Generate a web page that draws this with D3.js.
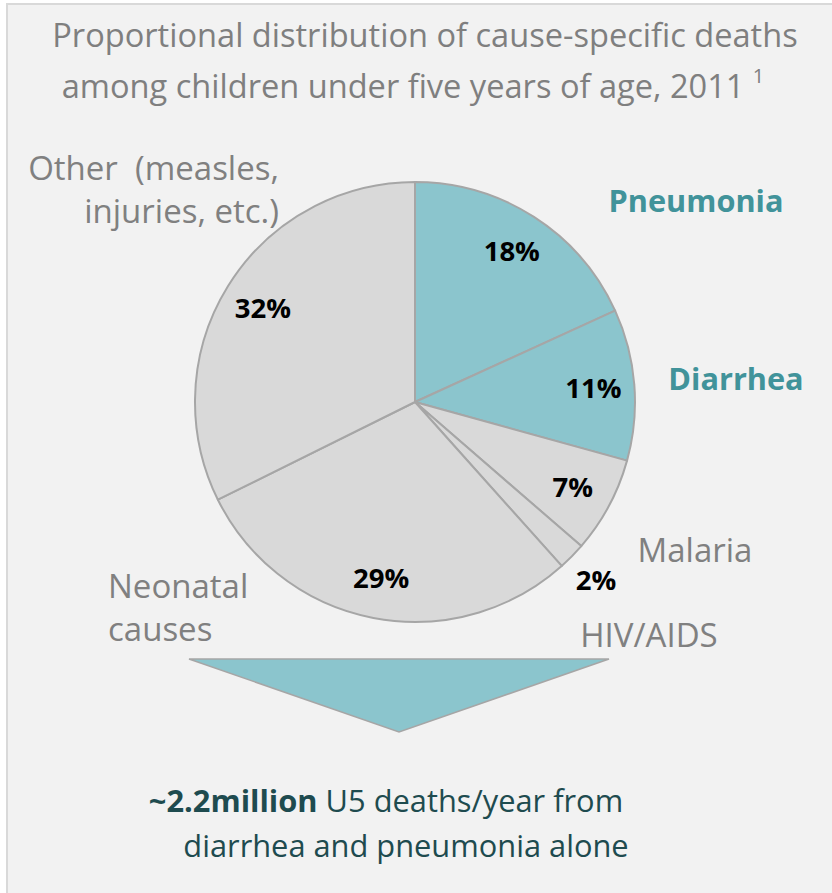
<!DOCTYPE html>
<html>
<head>
<meta charset="utf-8">
<script src="https://cdn.jsdelivr.net/npm/d3@7"></script>
<style>
  body { margin: 0; background: #fff; }
  svg { display: block; font-family: "Open Sans", sans-serif; }
</style>
</head>
<body>
<script>
var width = 832,
    height = 893

// data
var causes = ['Pneumonia', 'Diarrhea', 'Malaria', 'HIV/AIDS', 'Neonatal causes', 'Other (measles, injuries, etc.)']
var shares = [18, 11, 7, 2, 29, 32]
var highlighted = ['Pneumonia', 'Diarrhea']
var labelLines = [['Pneumonia'], ['Diarrhea'], ['Malaria'], ['HIV/AIDS'], ['Neonatal', 'causes'], ['Other  (measles,', 'injuries, etc.)']]
var titleLines = ['Proportional distribution of cause-specific deaths', 'among children under five years of age, 2011']
var footnote = '1'
var bottomBold = '~2.2million'
var bottomLines = [' U5 deaths/year from', 'diarrhea and pneumonia alone']

var teal = '#8bc5cd',
    grey = '#d9d9d9',
    edge = '#a6a6a6',
    labelGrey = '#808080',
    labelTeal = '#41939a',
    dark = '#1e4b4f'

var cx = 415, cy = 402, radius = 220

var svg = d3.select('body').append('svg')
    .attr('width', width)
    .attr('height', height)

svg.append('rect')
    .attr('x', 7).attr('y', 4)
    .attr('width', width + 20).attr('height', height + 20)
    .attr('fill', '#f2f2f2')
    .attr('stroke', '#d9d9d9')
    .attr('stroke-width', 2)

// title
var title = svg.append('text')
    .attr('text-anchor', 'middle')
    .attr('fill', '#7f7f7f')
    .style('font-size', '32.6px')

title.append('tspan').attr('x', 425).attr('y', 47).text(titleLines[0])
title.append('tspan').attr('x', 413).attr('y', 98).text(titleLines[1] + ' ')
title.append('tspan').attr('dy', -15).style('font-size', '20px').text(footnote)

// pie
var data = causes.map(function(c, i) { return {cause: c, value: shares[i], lines: labelLines[i]} })

var pie = d3.pie()
    .sort(null)
    .value(function(d) { return d.value })

var arc = d3.arc().innerRadius(0).outerRadius(radius)

var slices = pie(data)

var g = svg.append('g').attr('transform', 'translate(' + cx + ',' + cy + ')')

g.selectAll('path.slice')
  .data(slices)
  .enter().append('path')
    .attr('class', 'slice')
    .attr('d', arc)
    .attr('fill', function(d) { return highlighted.indexOf(d.data.cause) > -1 ? teal : grey })
    .attr('stroke', edge)
    .attr('stroke-width', 2)
    .attr('stroke-linejoin', 'round')

// percent labels: inside, small slices pushed outside
g.selectAll('text.pct')
  .data(slices)
  .enter().append('text')
    .attr('class', 'pct')
    .attr('text-anchor', 'middle')
    .attr('font-weight', 'bold')
    .attr('fill', '#000')
    .style('font-size', '27.5px')
    .attr('transform', function(d) {
      var r = d.data.value < 5 ? 254 : 179
      var c = d3.arc().innerRadius(r).outerRadius(r).centroid(d)
      return 'translate(' + c[0] + ',' + (c[1] + 10) + ')'
    })
    .text(function(d) { return d.data.value + '%' })

// category labels, offsets from the pie centre
var labelPlace = {
  'Pneumonia':   {dx: 281, dy: -190, anchor: 'middle'},
  'Diarrhea':    {dx: 321, dy: -12, anchor: 'middle'},
  'Malaria':     {dx: 280, dy: 160, anchor: 'middle'},
  'HIV/AIDS':    {dx: 234, dy: 245, anchor: 'middle'},
  'Neonatal causes': {dx: -307, dy: 196, anchor: 'start'},
  'Other (measles, injuries, etc.)': {dx: -136, dy: -222, anchor: 'end'}
}

data.forEach(function(d) {
  var p = labelPlace[d.cause]
  var hi = highlighted.indexOf(d.cause) > -1
  var t = g.append('text')
      .attr('text-anchor', p.anchor)
      .attr('fill', hi ? labelTeal : labelGrey)
      .attr('font-weight', hi ? 'bold' : 'normal')
      .style('font-size', hi ? '30.7px' : '33px')
      .style('white-space', 'pre')
  d.lines.forEach(function(line, i) {
    t.append('tspan')
      .attr('x', p.dx)
      .attr('y', p.dy + i * 43)
      .text(line)
  })
})

// arrow
var arrow = [[-226, 257], [194, 257], [-16, 330]]
g.append('path')
    .attr('d', d3.line()(arrow) + 'Z')
    .attr('fill', teal)
    .attr('stroke', edge)
    .attr('stroke-width', 1.5)

// bottom message
var msg = svg.append('text')
    .attr('text-anchor', 'middle')
    .attr('fill', dark)
    .style('font-size', '30.8px')

var l1 = msg.append('tspan').attr('x', 386).attr('y', 812)
l1.append('tspan').attr('font-weight', 'bold').text(bottomBold)
l1.append('tspan').text(bottomLines[0])
msg.append('tspan').attr('x', 406).attr('y', 857).text(bottomLines[1])
</script>
</body>
</html>
